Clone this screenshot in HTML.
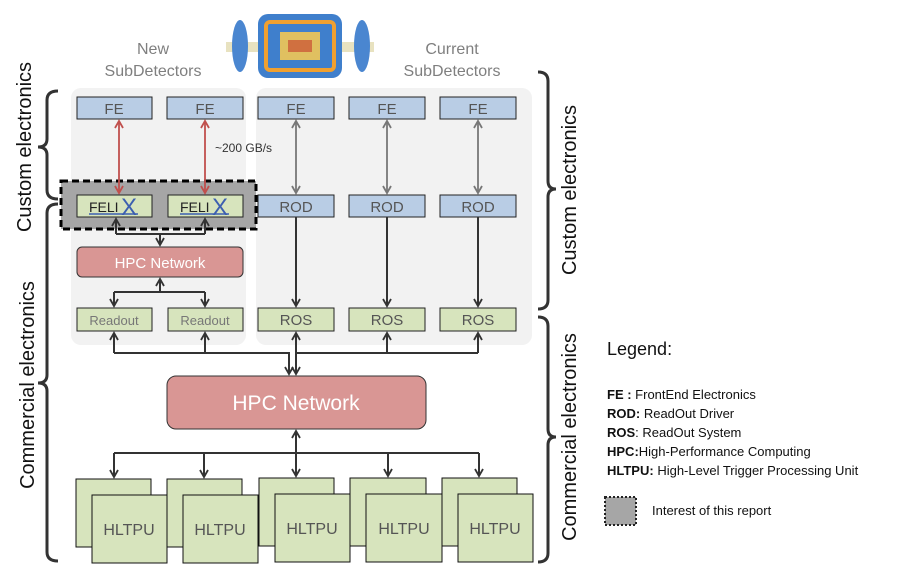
<!DOCTYPE html>
<html><head><meta charset="utf-8"><style>
html,body{margin:0;padding:0;background:#fff;}
svg{display:block;font-family:"Liberation Sans",sans-serif;}
</style></head><body>
<svg width="902" height="580" viewBox="0 0 902 580" xmlns="http://www.w3.org/2000/svg">
<defs>
<marker id="a" markerWidth="10" markerHeight="10" refX="8" refY="5" orient="auto-start-reverse" markerUnits="userSpaceOnUse"><path d="M1,1 L8,5 L1,9" fill="none" stroke="#333" stroke-width="1.8"/></marker>
<marker id="ag" markerWidth="10" markerHeight="10" refX="8" refY="5" orient="auto-start-reverse" markerUnits="userSpaceOnUse"><path d="M1,1 L8,5 L1,9" fill="none" stroke="#777" stroke-width="1.8"/></marker>
<marker id="ar" markerWidth="10" markerHeight="10" refX="8" refY="5" orient="auto-start-reverse" markerUnits="userSpaceOnUse"><path d="M1,1 L8,5 L1,9" fill="none" stroke="#c0504d" stroke-width="1.8"/></marker>
</defs>

<!-- detector image -->
<g>
<rect x="226" y="42" width="148" height="10" fill="#e8e2c0"/>
<ellipse cx="240" cy="46" rx="8" ry="26" fill="#4a86d0"/>
<ellipse cx="362" cy="46" rx="8" ry="26" fill="#4a86d0"/>
<rect x="258" y="14" width="84" height="64" rx="10" fill="#3f7fcc"/>
<rect x="266" y="22" width="68" height="48" rx="4" fill="none" stroke="#f0a030" stroke-width="4"/>
<rect x="280" y="32" width="40" height="28" fill="#e0c060"/>
<rect x="288" y="40" width="24" height="12" fill="#d07040"/>
</g>

<!-- titles -->
<g fill="#7f7f7f" font-size="16" text-anchor="middle">
<text x="153" y="54">New</text><text x="153" y="76">SubDetectors</text>
<text x="452" y="54">Current</text><text x="452" y="76">SubDetectors</text>
</g>

<!-- panels -->
<rect x="71" y="88" width="175" height="257" rx="10" fill="#f2f2f2"/>
<rect x="256" y="88" width="276" height="257" rx="10" fill="#f2f2f2"/>

<!-- dashed box -->
<rect x="61" y="181" width="195" height="48" fill="#a6a6a6" stroke="#000" stroke-width="3" stroke-dasharray="7,4"/>

<!-- FE -->
<g fill="#b9cde5" stroke="#222" stroke-width="1">
<rect x="77" y="97" width="75" height="22"/><rect x="167" y="97" width="76" height="22"/>
<rect x="258" y="97" width="76" height="22"/><rect x="349" y="97" width="76" height="22"/><rect x="440" y="97" width="76" height="22"/>
<rect x="258" y="195" width="76" height="22"/><rect x="349" y="195" width="76" height="22"/><rect x="440" y="195" width="76" height="22"/>
</g>
<g fill="#d7e4bd" stroke="#222" stroke-width="1">
<rect x="77" y="195" width="75" height="22"/><rect x="168" y="195" width="75" height="22"/>
<rect x="77" y="308" width="75" height="23"/><rect x="168" y="308" width="75" height="23"/>
<rect x="258" y="308" width="76" height="23"/><rect x="349" y="308" width="76" height="23"/><rect x="440" y="308" width="76" height="23"/>
</g>
<g fill="#555" font-size="15" text-anchor="middle">
<text x="114" y="114">FE</text><text x="205" y="114">FE</text>
<text x="296" y="114">FE</text><text x="387" y="114">FE</text><text x="478" y="114">FE</text>
<text x="296" y="212">ROD</text><text x="387" y="212">ROD</text><text x="478" y="212">ROD</text>
<text x="296" y="325">ROS</text><text x="387" y="325">ROS</text><text x="478" y="325">ROS</text>
<text x="114" y="325" font-size="13" fill="#777">Readout</text><text x="205" y="325" font-size="13" fill="#777">Readout</text>
</g>
<!-- FELIX -->
<g font-size="14" fill="#222">
<text x="89" y="212">FELI</text><text x="180" y="212">FELI</text>
</g>
<g font-size="24" fill="#3c5fb0">
<text x="121" y="215">X</text><text x="212" y="215">X</text>
</g>
<g stroke="#3c5fb0" stroke-width="1.5">
<line x1="89" y1="214" x2="138" y2="214"/><line x1="180" y1="214" x2="229" y2="214"/>
</g>

<!-- HPC small -->
<rect x="77" y="247" width="166" height="30" rx="5" fill="#d99694" stroke="#333"/>
<text x="160" y="268" fill="#fff" font-size="15" text-anchor="middle">HPC Network</text>
<!-- HPC big -->
<rect x="167" y="376" width="259" height="53" rx="9" fill="#d99694" stroke="#333"/>
<text x="296" y="410" fill="#fff" font-size="21" text-anchor="middle">HPC Network</text>

<!-- arrows -->
<g stroke="#c0504d" stroke-width="1.8">
<line x1="119" y1="121" x2="119" y2="193" marker-start="url(#ar)" marker-end="url(#ar)"/>
<line x1="205" y1="121" x2="205" y2="193" marker-start="url(#ar)" marker-end="url(#ar)"/>
</g>
<g stroke="#777" stroke-width="1.8">
<line x1="296" y1="121" x2="296" y2="193" marker-start="url(#ag)" marker-end="url(#ag)"/>
<line x1="387" y1="121" x2="387" y2="193" marker-start="url(#ag)" marker-end="url(#ag)"/>
<line x1="478" y1="121" x2="478" y2="193" marker-start="url(#ag)" marker-end="url(#ag)"/>
</g>
<g stroke="#333" stroke-width="2" fill="none">
<line x1="296" y1="217" x2="296" y2="306" marker-end="url(#a)"/>
<line x1="387" y1="217" x2="387" y2="306" marker-end="url(#a)"/>
<line x1="478" y1="217" x2="478" y2="306" marker-end="url(#a)"/>
<line x1="116" y1="219" x2="116" y2="234" marker-start="url(#a)"/>
<line x1="205" y1="219" x2="205" y2="234" marker-start="url(#a)"/>
<path d="M116,234 H205 M160,234 V245" marker-end="url(#a)"/>
<line x1="160" y1="279" x2="160" y2="292" marker-start="url(#a)"/>
<path d="M114,292 H205"/>
<line x1="114" y1="292" x2="114" y2="306" marker-end="url(#a)"/>
<line x1="205" y1="292" x2="205" y2="306" marker-end="url(#a)"/>
<line x1="114" y1="333" x2="114" y2="353" marker-start="url(#a)"/>
<line x1="205" y1="333" x2="205" y2="353" marker-start="url(#a)"/>
<path d="M114,353 H289 V374" marker-end="url(#a)"/>
<line x1="296" y1="333" x2="296" y2="374" marker-start="url(#a)" marker-end="url(#a)"/>
<line x1="387" y1="333" x2="387" y2="353" marker-start="url(#a)"/>
<line x1="478" y1="333" x2="478" y2="353" marker-start="url(#a)"/>
<path d="M296,353 H478"/>
<line x1="296" y1="431" x2="296" y2="453" marker-start="url(#a)"/>
<path d="M114,453 H479"/>
<line x1="114" y1="453" x2="114" y2="477" marker-end="url(#a)"/>
<line x1="204" y1="453" x2="204" y2="477" marker-end="url(#a)"/>
<line x1="296" y1="453" x2="296" y2="476" marker-end="url(#a)"/>
<line x1="388" y1="453" x2="388" y2="476" marker-end="url(#a)"/>
<line x1="479" y1="453" x2="479" y2="476" marker-end="url(#a)"/>
</g>
<text x="215" y="152" font-size="12" fill="#333">~200 GB/s</text>

<!-- HLTPU -->
<g fill="#d7e4bd" stroke="#111" stroke-width="1">
<rect x="76" y="479" width="75" height="68"/><rect x="92" y="495" width="75" height="68"/>
<rect x="167" y="479" width="75" height="68"/><rect x="183" y="495" width="75" height="68"/>
<rect x="259" y="478" width="75" height="68"/><rect x="275" y="494" width="75" height="68"/>
<rect x="350" y="478" width="76" height="68"/><rect x="366" y="494" width="76" height="68"/>
<rect x="442" y="478" width="75" height="68"/><rect x="458" y="494" width="75" height="68"/>
</g>
<g fill="#555" font-size="16" text-anchor="middle">
<text x="129" y="535">HLTPU</text><text x="220" y="535">HLTPU</text><text x="312" y="534">HLTPU</text><text x="404" y="534">HLTPU</text><text x="495" y="534">HLTPU</text>
</g>

<!-- braces -->
<g stroke="#333" stroke-width="3" fill="none">
<path d="M58,91 Q47,91 47,100 L47,139 Q47,147 38,147 Q47,147 47,155 L47,190 Q47,199 58,199"/>
<path d="M58,204 Q47,204 47,213 L47,375 Q47,383 38,383 Q47,383 47,391 L47,552 Q47,561 58,561"/>
<path d="M538,72 Q548,72 548,81 L548,181 Q548,189 556,189 Q548,189 548,197 L548,300 Q548,309 538,309"/>
<path d="M538,317 Q548,317 548,326 L548,429 Q548,437 556,437 Q548,437 548,445 L548,553 Q548,562 538,562"/>
</g>
<g font-size="20" fill="#111" text-anchor="middle">
<text transform="translate(31,147) rotate(-90)">Custom electronics</text>
<text transform="translate(34,385) rotate(-90)">Commercial electronics</text>
<text transform="translate(576,190) rotate(-90)">Custom electronics</text>
<text transform="translate(576,437) rotate(-90)">Commercial electronics</text>
</g>

<!-- legend -->
<text x="607" y="355" font-size="18" fill="#111">Legend:</text>
<g font-size="13" fill="#111">
<text x="607" y="399"><tspan font-weight="bold">FE :</tspan> FrontEnd Electronics</text>
<text x="607" y="418"><tspan font-weight="bold">ROD:</tspan> ReadOut Driver</text>
<text x="607" y="437"><tspan font-weight="bold">ROS</tspan>: ReadOut System</text>
<text x="607" y="456"><tspan font-weight="bold">HPC:</tspan>High-Performance Computing</text>
<text x="607" y="475"><tspan font-weight="bold">HLTPU:</tspan> High-Level Trigger Processing Unit</text>
<text x="652" y="515">Interest of this report</text>
</g>
<rect x="605" y="497" width="31" height="28" fill="#a6a6a6" stroke="#222" stroke-width="2" stroke-dasharray="2,2"/>
</svg>
</body></html>
